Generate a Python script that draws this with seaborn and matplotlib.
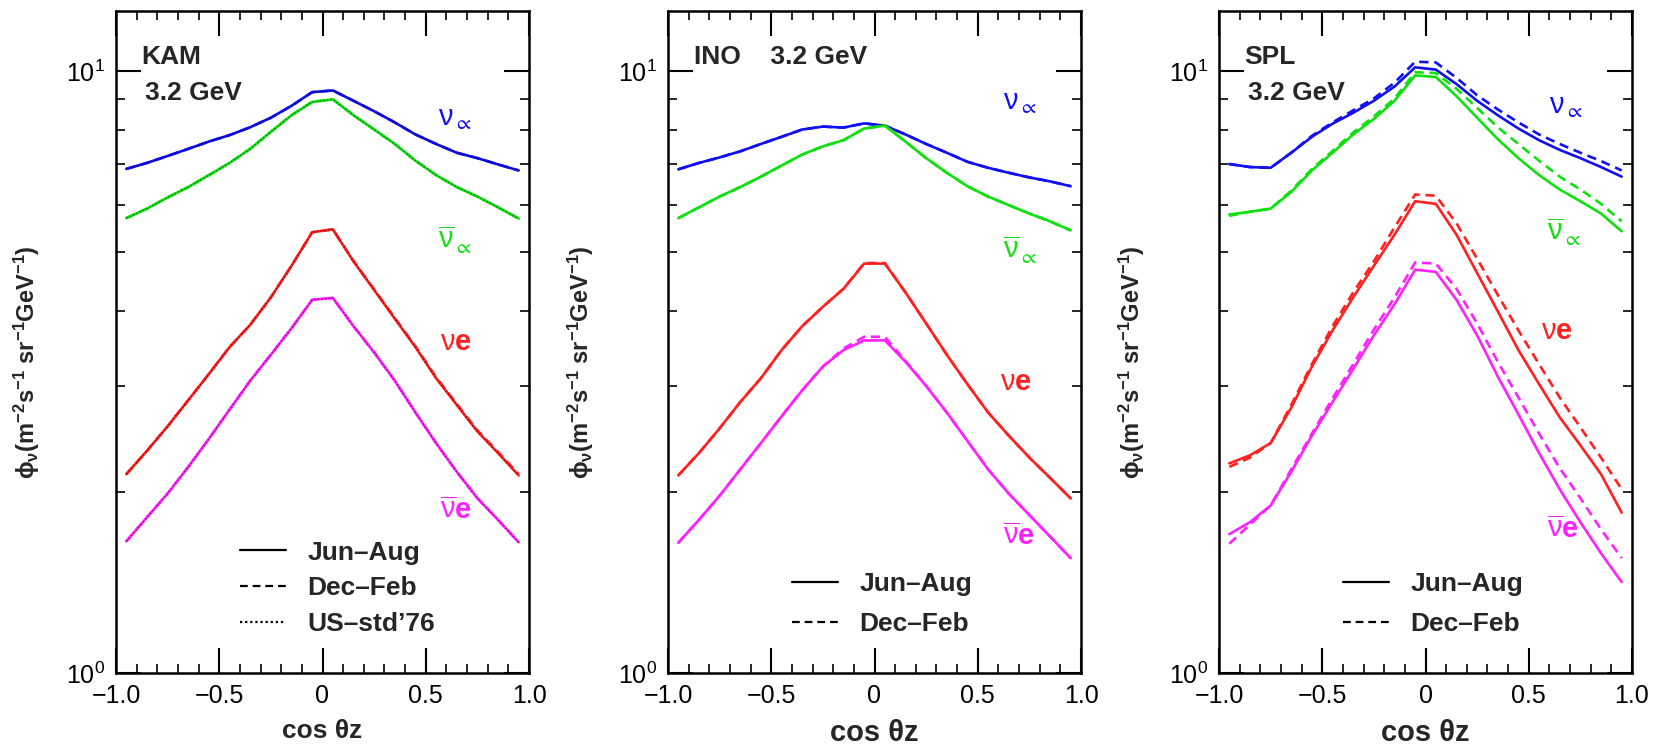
import matplotlib
matplotlib.use("Agg")
import matplotlib.pyplot as plt
import numpy as np
import pandas as pd
import seaborn as sns
from matplotlib.lines import Line2D
from matplotlib.ticker import FixedLocator, MultipleLocator, LogLocator, NullFormatter, FuncFormatter

# zenith-angle bin centres
cos_zenith = [-0.95, -0.85, -0.75, -0.65, -0.55, -0.45, -0.35, -0.25, -0.15, -0.05,
              0.05, 0.15, 0.25, 0.35, 0.45, 0.55, 0.65, 0.75, 0.85, 0.95]

# Kamioka, 3.2 GeV
kam_numu_jun = [6.88, 7.04, 7.23, 7.43, 7.64, 7.83, 8.07, 8.37, 8.76, 9.23, 9.29, 8.93, 8.58, 8.22, 7.85, 7.57, 7.32, 7.17, 7.00, 6.84]
kam_numu_dec = [6.88, 7.04, 7.23, 7.43, 7.64, 7.83, 8.07, 8.37, 8.76, 9.23, 9.29, 8.93, 8.58, 8.22, 7.85, 7.57, 7.32, 7.17, 7.00, 6.84]
kam_numu_std = [6.88, 7.04, 7.23, 7.43, 7.64, 7.83, 8.07, 8.37, 8.76, 9.23, 9.29, 8.93, 8.58, 8.22, 7.85, 7.57, 7.32, 7.17, 7.00, 6.84]
kam_numubar_jun = [5.70, 5.91, 6.17, 6.42, 6.72, 7.04, 7.43, 7.93, 8.45, 8.89, 8.98, 8.45, 8.00, 7.57, 7.10, 6.72, 6.42, 6.19, 5.94, 5.69]
kam_numubar_dec = [5.70, 5.91, 6.17, 6.42, 6.72, 7.04, 7.43, 7.93, 8.45, 8.89, 8.98, 8.45, 8.00, 7.57, 7.10, 6.72, 6.42, 6.19, 5.94, 5.69]
kam_numubar_std = [5.70, 5.91, 6.17, 6.42, 6.72, 7.04, 7.43, 7.93, 8.45, 8.89, 8.98, 8.45, 8.00, 7.57, 7.10, 6.72, 6.42, 6.19, 5.94, 5.69]
kam_nue_jun = [2.14, 2.34, 2.57, 2.84, 3.14, 3.48, 3.79, 4.21, 4.75, 5.40, 5.46, 4.83, 4.33, 3.88, 3.48, 3.09, 2.79, 2.52, 2.32, 2.13]
kam_nue_dec = [2.14, 2.34, 2.57, 2.84, 3.14, 3.48, 3.79, 4.21, 4.75, 5.40, 5.46, 4.84, 4.34, 3.89, 3.49, 3.10, 2.80, 2.53, 2.33, 2.14]
kam_nue_std = [2.14, 2.34, 2.57, 2.84, 3.14, 3.48, 3.79, 4.21, 4.75, 5.40, 5.46, 4.83, 4.33, 3.88, 3.48, 3.09, 2.79, 2.52, 2.32, 2.13]
kam_nuebar_jun = [1.655, 1.814, 1.987, 2.20, 2.45, 2.74, 3.06, 3.38, 3.74, 4.17, 4.20, 3.77, 3.41, 3.06, 2.71, 2.41, 2.16, 1.952, 1.797, 1.649]
kam_nuebar_dec = [1.655, 1.814, 1.987, 2.20, 2.45, 2.74, 3.06, 3.38, 3.74, 4.17, 4.20, 3.77, 3.41, 3.06, 2.71, 2.41, 2.16, 1.952, 1.797, 1.649]
kam_nuebar_std = [1.655, 1.814, 1.987, 2.20, 2.45, 2.74, 3.06, 3.38, 3.74, 4.17, 4.20, 3.77, 3.41, 3.06, 2.71, 2.41, 2.16, 1.952, 1.797, 1.649]

# INO, 3.2 GeV
ino_numu_jun = [6.87, 7.04, 7.19, 7.36, 7.57, 7.78, 8.00, 8.09, 8.06, 8.19, 8.12, 7.85, 7.57, 7.32, 7.07, 6.91, 6.78, 6.66, 6.56, 6.44]
ino_numu_dec = [6.87, 7.04, 7.19, 7.36, 7.57, 7.78, 8.00, 8.09, 8.06, 8.19, 8.12, 7.85, 7.57, 7.32, 7.07, 6.91, 6.78, 6.66, 6.56, 6.44]
ino_numubar_jun = [5.70, 5.94, 6.19, 6.42, 6.68, 6.97, 7.27, 7.50, 7.68, 8.03, 8.12, 7.64, 7.17, 6.78, 6.44, 6.19, 5.99, 5.80, 5.63, 5.44]
ino_numubar_dec = [5.70, 5.94, 6.19, 6.42, 6.68, 6.97, 7.27, 7.50, 7.68, 8.03, 8.12, 7.64, 7.17, 6.78, 6.44, 6.19, 5.99, 5.80, 5.63, 5.44]
ino_nue_jun = [2.13, 2.32, 2.55, 2.82, 3.09, 3.44, 3.77, 4.06, 4.35, 4.79, 4.79, 4.29, 3.81, 3.38, 3.02, 2.71, 2.48, 2.28, 2.11, 1.95]
ino_nue_dec = [2.13, 2.32, 2.55, 2.82, 3.09, 3.44, 3.77, 4.06, 4.35, 4.80, 4.80, 4.29, 3.81, 3.38, 3.02, 2.71, 2.48, 2.28, 2.11, 1.95]
ino_nuebar_jun = [1.646, 1.797, 1.970, 2.18, 2.41, 2.67, 2.95, 3.23, 3.44, 3.57, 3.57, 3.29, 3.00, 2.71, 2.43, 2.18, 1.987, 1.830, 1.686, 1.552]
ino_nuebar_dec = [1.646, 1.797, 1.970, 2.18, 2.41, 2.67, 2.95, 3.23, 3.46, 3.62, 3.62, 3.30, 3.00, 2.71, 2.43, 2.18, 1.987, 1.830, 1.686, 1.552]

# SPL site, 3.2 GeV
spl_numu_jun = [7.01, 6.93, 6.91, 7.32, 7.78, 8.18, 8.53, 8.93, 9.43, 10.15, 10.06, 9.52, 8.93, 8.45, 8.03, 7.68, 7.40, 7.17, 6.93, 6.68]
spl_numu_dec = [7.01, 6.93, 6.91, 7.32, 7.81, 8.22, 8.61, 9.01, 9.57, 10.37, 10.34, 9.75, 9.12, 8.64, 8.22, 7.85, 7.57, 7.32, 7.09, 6.84]
spl_numubar_jun = [5.78, 5.84, 5.91, 6.30, 6.84, 7.32, 7.85, 8.33, 8.93, 9.84, 9.78, 9.09, 8.37, 7.71, 7.17, 6.72, 6.36, 6.08, 5.80, 5.42]
spl_numubar_dec = [5.75, 5.84, 5.91, 6.33, 6.88, 7.37, 7.91, 8.41, 9.01, 9.96, 9.93, 9.35, 8.69, 8.07, 7.57, 7.10, 6.68, 6.36, 6.02, 5.63]
spl_nue_jun = [2.23, 2.30, 2.41, 2.76, 3.23, 3.71, 4.21, 4.75, 5.35, 6.08, 6.02, 5.35, 4.62, 3.99, 3.44, 3.02, 2.66, 2.39, 2.14, 1.847]
spl_nue_dec = [2.20, 2.28, 2.41, 2.79, 3.26, 3.77, 4.29, 4.83, 5.50, 6.24, 6.21, 5.59, 4.88, 4.25, 3.71, 3.26, 2.87, 2.56, 2.28, 2.02]
spl_nuebar_jun = [1.701, 1.781, 1.898, 2.16, 2.48, 2.82, 3.20, 3.64, 4.10, 4.68, 4.64, 4.17, 3.64, 3.11, 2.69, 2.32, 2.02, 1.781, 1.581, 1.416]
spl_nuebar_dec = [1.640, 1.765, 1.898, 2.18, 2.50, 2.86, 3.26, 3.72, 4.21, 4.81, 4.79, 4.35, 3.81, 3.29, 2.87, 2.50, 2.19, 1.952, 1.733, 1.552]

flavors = ["numu", "numubar", "nue", "nuebar"]
flavor_colors = {"numu": "#1010f0", "numubar": "#10e010", "nue": "#ff2020", "nuebar": "#ff20ff"}
flavor_dark = {"numu": "#00006a", "numubar": "#006000", "nue": "#700000", "nuebar": "#700070"}
flavor_labels = {"numu": r"$\nu_{\propto}$", "numubar": r"$\overline{\nu}_{\propto}$",
                 "nue": r"$\nu\mathbf{e}$", "nuebar": r"$\overline{\nu}\mathbf{e}$"}
season_names = ["Jun\u2013Aug", "Dec\u2013Feb", "US\u2013std\u201976"]

panels = [
    {"site": "KAM", "seasons": {
        "Jun\u2013Aug": [kam_numu_jun, kam_numubar_jun, kam_nue_jun, kam_nuebar_jun],
        "Dec\u2013Feb": [kam_numu_dec, kam_numubar_dec, kam_nue_dec, kam_nuebar_dec],
        "US\u2013std\u201976": [kam_numu_std, kam_numubar_std, kam_nue_std, kam_nuebar_std]},
     "label_pos": {"numu": (0.56, 8.35), "numubar": (0.56, 5.25), "nue": (0.57, 3.55), "nuebar": (0.57, 1.86)}},
    {"site": "INO", "seasons": {
        "Jun\u2013Aug": [ino_numu_jun, ino_numubar_jun, ino_nue_jun, ino_nuebar_jun],
        "Dec\u2013Feb": [ino_numu_dec, ino_numubar_dec, ino_nue_dec, ino_nuebar_dec]},
     "label_pos": {"numu": (0.62, 8.9), "numubar": (0.62, 5.05), "nue": (0.61, 3.05), "nuebar": (0.62, 1.68)}},
    {"site": "SPL", "seasons": {
        "Jun\u2013Aug": [spl_numu_jun, spl_numubar_jun, spl_nue_jun, spl_nuebar_jun],
        "Dec\u2013Feb": [spl_numu_dec, spl_numubar_dec, spl_nue_dec, spl_nuebar_dec]},
     "label_pos": {"numu": (0.60, 8.75), "numubar": (0.59, 5.40), "nue": (0.56, 3.70), "nuebar": (0.59, 1.73)}},
]

sns.set_style("ticks")
plt.rcParams["font.family"] = ["Liberation Sans", "DejaVu Sans"]
plt.rcParams["mathtext.fontset"] = "custom"
plt.rcParams["mathtext.rm"] = "Liberation Sans"
plt.rcParams["mathtext.it"] = "Liberation Sans:italic"
plt.rcParams["mathtext.bf"] = "Liberation Sans:bold"
plt.rcParams["mathtext.default"] = "regular"

fig = plt.figure(figsize=(16.53, 7.51), dpi=100)
W, H = 1653, 751
axes_left = [116, 668, 1219]

dash_styles = {"Jun\u2013Aug": "", "Dec\u2013Feb": (3.5, 2.2), "US\u2013std\u201976": (1.0, 1.3)}


def tick_fmt(v, pos):
    if abs(v) < 1e-9:
        return "0"
    return f"{v:.1f}".replace("-", "\u2212")


for k, panel in enumerate(panels):
    ax = fig.add_axes([axes_left[k] / W, 78 / H, 413 / W, 662 / H])
    frames = []
    for season, series in panel["seasons"].items():
        for fl, vals in zip(flavors, series):
            frames.append(pd.DataFrame({"cos": cos_zenith, "flux": vals, "flavor": fl, "season": season}))
    df = pd.concat(frames, ignore_index=True)

    main = df[df["season"] != "US\u2013std\u201976"]
    sns.lineplot(data=main, x="cos", y="flux", hue="flavor", style="season",
                 palette=flavor_colors, dashes=dash_styles, hue_order=flavors,
                 style_order=[s for s in season_names if s in main["season"].unique()],
                 estimator=None, sort=False, legend=False, linewidth=1.9, ax=ax)
    std = df[df["season"] == "US\u2013std\u201976"]
    if len(std):
        sns.lineplot(data=std, x="cos", y="flux", hue="flavor", palette=flavor_dark,
                     hue_order=flavors, estimator=None, sort=False, legend=False,
                     linewidth=1.0, linestyle=(0, (1.0, 1.6)), alpha=0.7, ax=ax)

    ax.set_yscale("log")
    ax.set_xlim(-1.0, 1.0)
    ax.set_ylim(1.0, 12.59)
    ax.xaxis.set_major_locator(FixedLocator([-1.0, -0.5, 0.0, 0.5, 1.0]))
    ax.xaxis.set_minor_locator(MultipleLocator(0.1))
    ax.xaxis.set_major_formatter(FuncFormatter(tick_fmt))
    ax.yaxis.set_major_locator(LogLocator(base=10))
    ax.yaxis.set_minor_locator(LogLocator(base=10, subs=np.arange(2, 10)))
    ax.yaxis.set_minor_formatter(NullFormatter())
    ax.tick_params(which="both", direction="in", top=True, right=True, colors="black",
                   labelsize=18, pad=8)
    ax.tick_params(which="major", length=18, width=1.5)
    ax.tick_params(which="minor", length=6.5, width=1.2)
    for sp in ax.spines.values():
        sp.set_linewidth(1.8)
        sp.set_color("black")

    xlabel_size = 19 if k == 0 else 21
    ax.set_xlabel("cos \u03b8z", fontsize=xlabel_size, fontweight="bold", labelpad=8)
    ax.set_ylabel(r"$\phi_\nu$(m$^{-2}$s$^{-1}$ sr$^{-1}$GeV$^{-1}$)", fontsize=17,
                  fontweight="bold")
    ax.yaxis.set_label_coords(-0.18 if k == 0 else -0.175, 0.47)

    for fl in flavors:
        x, y = panel["label_pos"][fl]
        ax.text(x, y, flavor_labels[fl], color=flavor_colors[fl], fontsize=21,
                ha="left", va="center")

    if panel["site"] == "INO":
        ax.text(-0.875, 10.55, "INO    3.2 GeV", fontsize=19, fontweight="bold", va="center")
    else:
        ax.text(-0.88, 10.55, panel["site"], fontsize=19, fontweight="bold", va="center")
        ax.text(-0.86, 9.2, "3.2 GeV", fontsize=19, fontweight="bold", va="center")

    present = [s for s in season_names if s in panel["seasons"]]
    handles = [Line2D([], [], color="black", linewidth=1.6,
                      linestyle="-" if s == "Jun\u2013Aug" else (0, dash_styles[s]))
               for s in present]
    anchor_y = 0.20 if k == 0 else 0.152
    spacing = 0.45 if k == 0 else 0.6
    ax.legend(handles, present, loc="upper left", bbox_to_anchor=(0.30, anchor_y),
              frameon=False, prop={"weight": "bold", "size": 19}, handlelength=1.75,
              handletextpad=0.8, labelspacing=spacing, borderpad=0, borderaxespad=0)

fig.savefig("out.png", dpi=100)
